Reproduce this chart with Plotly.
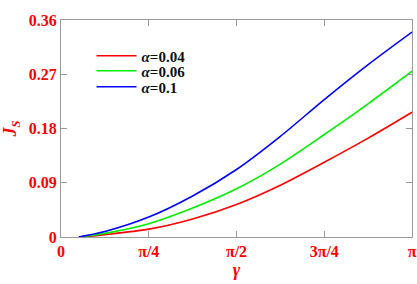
import numpy as np
import plotly.graph_objects as go

gamma = [0.16, np.pi/8, np.pi/4, 3*np.pi/8, np.pi/2, 5*np.pi/8, 3*np.pi/4, 7*np.pi/8, np.pi]
js_004 = [0.0, 0.004, 0.013, 0.030, 0.054, 0.086, 0.124, 0.164, 0.207]
js_006 = [0.0, 0.006, 0.022, 0.048, 0.080, 0.121, 0.170, 0.221, 0.275]
js_01 = [0.0, 0.009, 0.033, 0.068, 0.112, 0.167, 0.228, 0.286, 0.340]

x_tickvals = [0, np.pi/4, np.pi/2, 3*np.pi/4, np.pi]
x_ticktext = ["0", "π/4", "π/2", "3π/4", "π"]
y_tickvals = [0, 0.09, 0.18, 0.27, 0.36]
y_ticktext = ["0", "0.09", "0.18", "0.27", "0.36"]

series = [
    ("<i>α</i>=0.04", js_004, "#ff0000", "legend", 0.834),
    ("<i>α</i>=0.06", js_006, "#00ee00", "legend2", 0.765),
    ("<i>α</i>=0.1", js_01, "#0000ff", "legend3", 0.691),
]

serif = "Liberation Serif, Times New Roman, serif"

fig = go.Figure()
legends = {}
for name, ys, col, lg, ly in series:
    fig.add_trace(go.Scatter(x=gamma, y=ys, mode="lines", name=name, legend=lg,
                             line=dict(color=col, width=1.6, shape="spline", smoothing=0.8)))
    legends[lg] = dict(x=0.087, y=ly, xanchor="left", yanchor="middle",
                       bgcolor="rgba(0,0,0,0)",
                       font=dict(family=serif, size=15, color="#111111", weight="bold"),
                       itemwidth=40)

axis_common = dict(showline=True, linecolor="#999999", linewidth=1.2, mirror="ticks",
                   ticks="inside", ticklen=6, tickcolor="#999999", showgrid=False,
                   zeroline=False, automargin=False, ticklabeloverflow="allow",
                   tickfont=dict(family=serif, size=16, color="#ff0000", weight="bold"))

fig.update_layout(
    width=417, height=284,
    margin=dict(l=61, r=5, t=20, b=47, autoexpand=False),
    paper_bgcolor="white", plot_bgcolor="white",
    showlegend=True,
    xaxis=dict(range=[0, np.pi], tickvals=x_tickvals, ticktext=x_ticktext,
               title=dict(text="<b><i>γ</i></b>", font=dict(family=serif, size=18, color="#ff0000"), standoff=4),
               **axis_common),
    yaxis=dict(range=[0, 0.36], tickvals=y_tickvals, ticktext=y_ticktext,
               title=dict(text="<b><i>J<sub>S</sub></i></b>", font=dict(family=serif, size=18, color="#ff0000"), standoff=7),
               **axis_common),
    **legends,
)

fig.write_html("out.html", config={"displayModeBar": False},
               post_script="document.body.style.margin='0';document.body.style.overflow='hidden';")
